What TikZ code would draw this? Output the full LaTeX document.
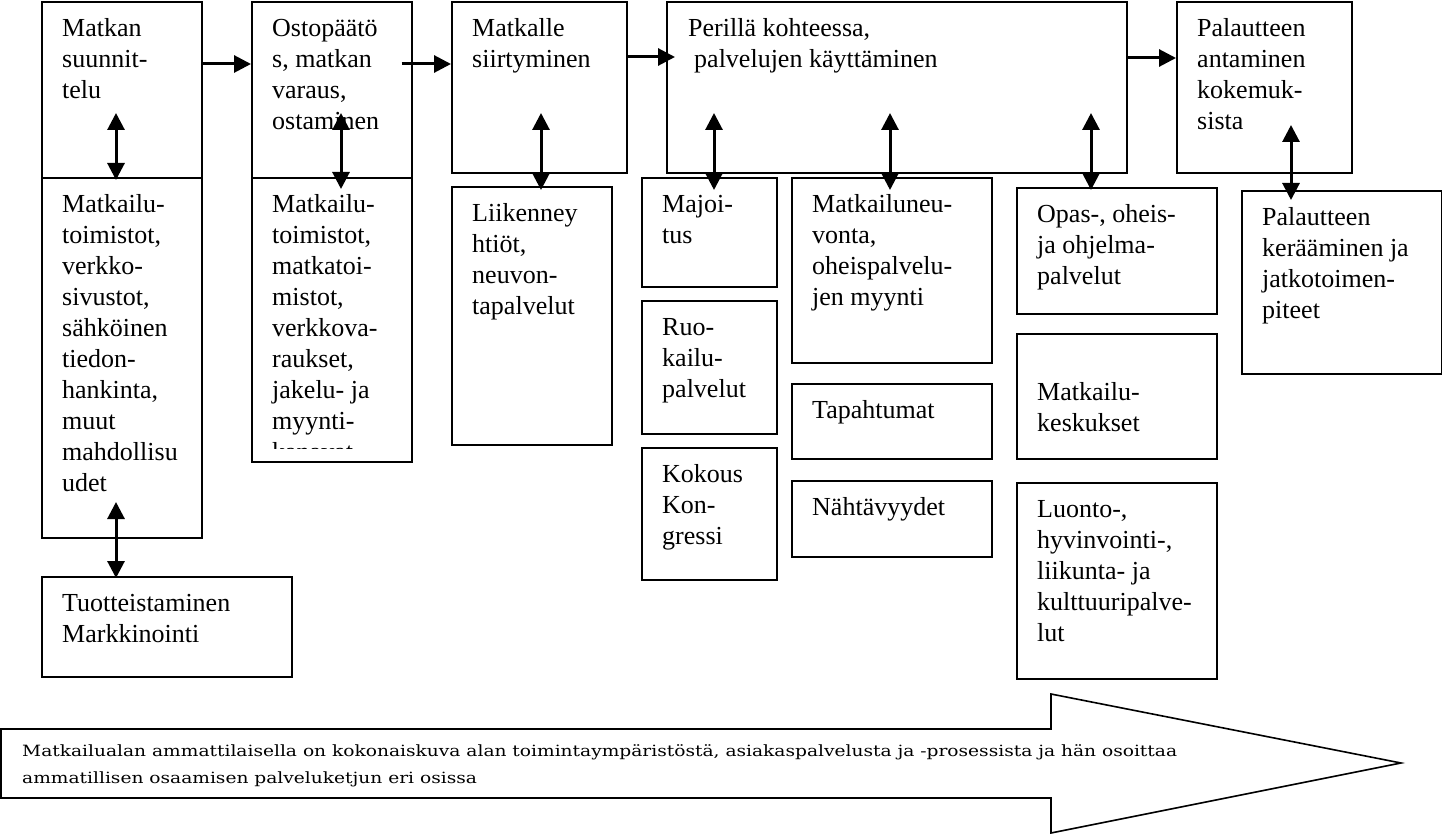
\documentclass[tikz,border=0pt]{standalone}
\usepackage{fontspec}
\usepackage{graphicx}
\setmainfont{Liberation Serif}
\newfontfamily\btmfam{DejaVu Serif}
\newcommand\bxfont{\fontsize{26}{31}\selectfont}
\newcommand\btmfont{\btmfam\fontsize{15.5}{27}\selectfont}
\usetikzlibrary{arrows.meta}
\newsavebox\lineAbox
\newsavebox\lineBbox
\newlength\lineAwd
\tikzset{
  box/.style={draw, line width=1.6pt, inner sep=0pt, anchor=north west},
  txt/.style={anchor=north west, align=left, inner sep=0pt, font=\bxfont},
  link/.style={line width=3pt, -{Triangle[length=17pt,width=17pt]}},
  dlink/.style={line width=3pt, {Triangle[length=17pt,width=17pt]}-{Triangle[length=17pt,width=17pt]}},
  bigarrow/.style={draw, line width=1.6pt},
}
\newcommand\mkbox[5]{\node[box, minimum width=#4pt, minimum height=#5pt] (#1) at (#2,#3) {};}
% text node: name, x, first baseline y, text
\newcommand\mktxt[4]{\node[txt] (#1) at (#2,{#3-22}) {\rule{0pt}{22pt}#4};}
\begin{document}
\sbox\lineAbox{\btmfont Matkailualan ammattilaisella on kokonaiskuva alan toimintaympäristöstä, asiakaspalvelusta ja -prosessista ja hän osoittaa}%
\sbox\lineBbox{\btmfont ammatillisen osaamisen palveluketjun eri osissa}%
\setlength\lineAwd{\wd\lineAbox}%
\begin{tikzpicture}[x=1pt, y=-1pt]
\useasboundingbox[fill=white] (0,0) rectangle (1442,834);
% boxes
\mkbox{a1}{41}{1}{160}{176}
\mkbox{a2}{41}{177}{160}{360}
\mkbox{a3}{41}{576}{250}{100}
\mkbox{b1}{251}{1}{160}{176}
\mkbox{b2}{251}{177}{160}{284}
\mkbox{c1}{451}{1}{175}{171}
\mkbox{c2}{451}{186}{160}{258}
\mkbox{d}{666}{1}{460}{171}
\mkbox{d1}{641}{177}{135}{109}
\mkbox{d2}{641}{300}{135}{133}
\mkbox{d3}{641}{447}{135}{132}
\mkbox{d4}{791}{177}{200}{185}
\mkbox{d5}{791}{383}{200}{75}
\mkbox{d6}{791}{480}{200}{76}
\mkbox{d7}{1016}{187}{200}{126}
\mkbox{d8}{1016}{333}{200}{125}
\mkbox{d9}{1016}{482}{200}{196}
\mkbox{e1}{1176}{1}{175}{171}
\mkbox{e2}{1241}{190}{200}{183}
% texts
\mktxt{a1t}{62}{36}{Matkan\\suunnit-\\telu}
\mktxt{a2t}{62}{212}{Matkailu-\\toimistot,\\verkko-\\sivustot,\\sähköinen\\tiedon-\\hankinta,\\muut\\mahdollisu\\udet}
\mktxt{a3t}{62}{611}{Tuotteistaminen\\Markkinointi}
\mktxt{b1t}{272}{36}{Ostopäätö\\s, matkan\\varaus,\\ostaminen}
\begin{scope}
\clip (252,178) rectangle (410,448);
\mktxt{b2t}{272}{212}{Matkailu-\\toimistot,\\matkatoi-\\mistot,\\verkkova-\\raukset,\\jakelu- ja\\myynti-\\kanavat}
\end{scope}
\mktxt{c1t}{472}{36}{Matkalle\\siirtyminen}
\mktxt{c2t}{472}{221}{Liikenney\\htiöt,\\neuvon-\\tapalvelut}
\mktxt{dt}{688}{36}{Perillä kohteessa,\\\hspace*{6pt}palvelujen käyttäminen}
\mktxt{d1t}{662}{212}{Majoi-\\tus}
\mktxt{d2t}{662}{335}{Ruo-\\kailu-\\palvelut}
\mktxt{d3t}{662}{482}{Kokous\\Kon-\\gressi}
\mktxt{d4t}{812}{212}{Matkailuneu-\\vonta,\\oheispalvelu-\\jen myynti}
\mktxt{d5t}{812}{418}{Tapahtumat}
\mktxt{d6t}{812}{515}{Nähtävyydet}
\mktxt{d7t}{1037}{222}{Opas-, oheis-\\ja ohjelma-\\palvelut}
\mktxt{d8t}{1037}{400}{Matkailu-\\keskukset}
\mktxt{d9t}{1037}{517}{Luonto-,\\hyvinvointi-,\\liikunta- ja\\kulttuuripalve-\\lut}
\mktxt{e1t}{1197}{36}{Palautteen\\antaminen\\kokemuk-\\sista}
\mktxt{e2t}{1262}{225}{Palautteen\\kerääminen ja\\jatkotoimen-\\piteet}
% flow arrows
\draw[link] ([yshift=-63pt]a1.north east) -- ([yshift=-63pt]b1.north west);
\draw[link] ([xshift=-11pt,yshift=-63pt]b1.north east) -- ([yshift=-63pt]c1.north west);
\draw[link] ([yshift=-56pt]c1.north east) -- ([xshift=9pt,yshift=-56pt]d.north west);
\draw[link] ([yshift=-57pt]d.north east) -- ([yshift=-57pt]e1.north west);
% double arrows
\draw[dlink] ([xshift=75pt,yshift=-112pt]a1.north west) -- ([xshift=75pt,yshift=-3pt]a2.north west);
\draw[dlink] ([xshift=90pt,yshift=-112pt]b1.north west) -- ([xshift=90pt,yshift=-12pt]b2.north west);
\draw[dlink] ([xshift=90pt,yshift=-112pt]c1.north west) -- ([xshift=90pt,yshift=-4pt]c2.north west);
\draw[dlink] ([xshift=48pt,yshift=-112pt]d.north west) -- ([xshift=73pt,yshift=-13pt]d1.north west);
\draw[dlink] ([xshift=224pt,yshift=-112pt]d.north west) -- ([xshift=99pt,yshift=-13pt]d4.north west);
\draw[dlink] ([xshift=425pt,yshift=-112pt]d.north west) -- ([xshift=75pt,yshift=-3pt]d7.north west);
\draw[dlink] ([xshift=115pt,yshift=-124pt]e1.north west) -- ([xshift=50pt,yshift=-10pt]e2.north west);
\draw[dlink] ([xshift=75pt,yshift=-325pt]a2.north west) -- ([xshift=75pt,yshift=-2pt]a3.north west);
% big arrow
\draw[bigarrow] (1,729) -- (1051,729) -- (1051,694) -- (1401,763) -- (1051,833) -- (1051,798) -- (1,798) -- cycle;
\pgfmathsetmacro\sxfac{1155/\lineAwd}
\node[anchor=base west, inner sep=0pt] (l1) at (22,756) {\scalebox{\sxfac}[1]{\usebox\lineAbox}};
\node[anchor=base west, inner sep=0pt] (l2) at (22,783) {\scalebox{\sxfac}[1]{\usebox\lineBbox}};
\end{tikzpicture}
\end{document}
